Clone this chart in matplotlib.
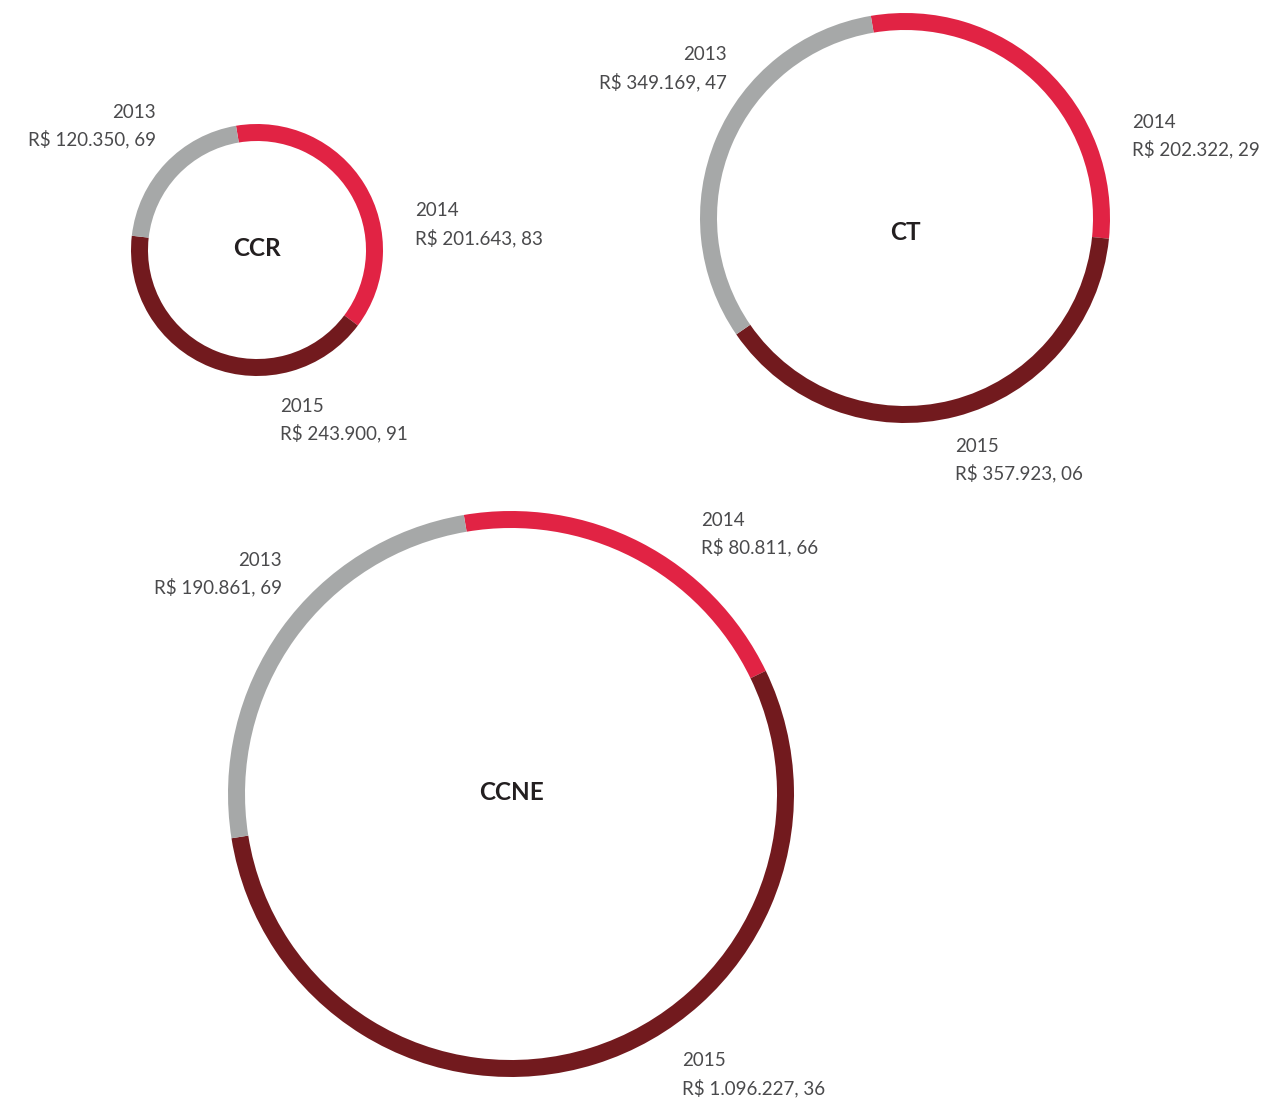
import matplotlib
matplotlib.use("Agg")
import matplotlib.pyplot as plt

# canvas size in pixels (dpi 100)
W, H = 1262, 1101

years = ["2013", "2014", "2015"]
colors = {"2013": "#A6A8A8", "2014": "#E12344", "2015": "#721A1E"}

# values printed next to each ring
ccr_labels = ["R$ 120.350, 69", "R$ 201.643, 83", "R$ 243.900, 91"]
ct_labels = ["R$ 349.169, 47", "R$ 202.322, 29", "R$ 357.923, 06"]
ccne_labels = ["R$ 190.861, 69", "R$ 80.811, 66", "R$ 1.096.227, 36"]

# arc share of each year as drawn (degrees)
ccr_arc = [73.9, 136.4, 149.7]
ct_arc = [115.0, 105.4, 139.6]
ccne_arc = [89.4, 73.8, 196.8]

# layout: ring centre / outer radius (px, y from top), label anchors
rings = [
    dict(name="CCR", arcs=ccr_arc, labels=ccr_labels, cx=257, cy=250, r=126, name_y=248,
         anchors=[(156, 112, "right"), (415, 211, "left"), (280, 406, "left")]),
    dict(name="CT", arcs=ct_arc, labels=ct_labels, cx=905, cy=218, r=205, name_y=232,
         anchors=[(727, 55, "right"), (1132, 122, "left"), (955, 446, "left")]),
    dict(name="CCNE", arcs=ccne_arc, labels=ccne_labels, cx=511, cy=794, r=283, name_y=792,
         anchors=[(282, 560, "right"), (701, 520, "left"), (682, 1061, "left")]),
]

RING_W = 17
LINE_GAP = 27
TXT = "#4A4A4C"

fig = plt.figure(figsize=(W / 100, H / 100), dpi=100)
ax = fig.add_axes([0, 0, 1, 1])

for ring in rings:
    # draw clockwise starting with 2014 just left of 12 o'clock
    order = [1, 2, 0]
    vals = [ring["arcs"][i] for i in order]
    cols = [colors[years[i]] for i in order]
    ax.pie(vals, colors=cols, startangle=99.6, counterclock=False,
           radius=ring["r"], center=(ring["cx"], H - ring["cy"]),
           wedgeprops=dict(width=RING_W, linewidth=0, edgecolor="none"))

    ax.text(ring["cx"], H - ring["name_y"], ring["name"], ha="center", va="center",
            fontsize=17.5, fontweight="bold", color="#231F20", family="Lato")

    for (x, y, ha), yr, lab in zip(ring["anchors"], years, ring["labels"]):
        ax.text(x, H - y, yr, ha=ha, va="center", fontsize=13.5,
                color=TXT, family="Lato")
        ax.text(x, H - y - LINE_GAP, lab, ha=ha, va="center", fontsize=13.5,
                color=TXT, family="Lato")

ax.set_xlim(0, W)
ax.set_ylim(0, H)
ax.set_aspect("equal")
ax.axis("off")

fig.savefig("out.png", dpi=100, facecolor="white")
